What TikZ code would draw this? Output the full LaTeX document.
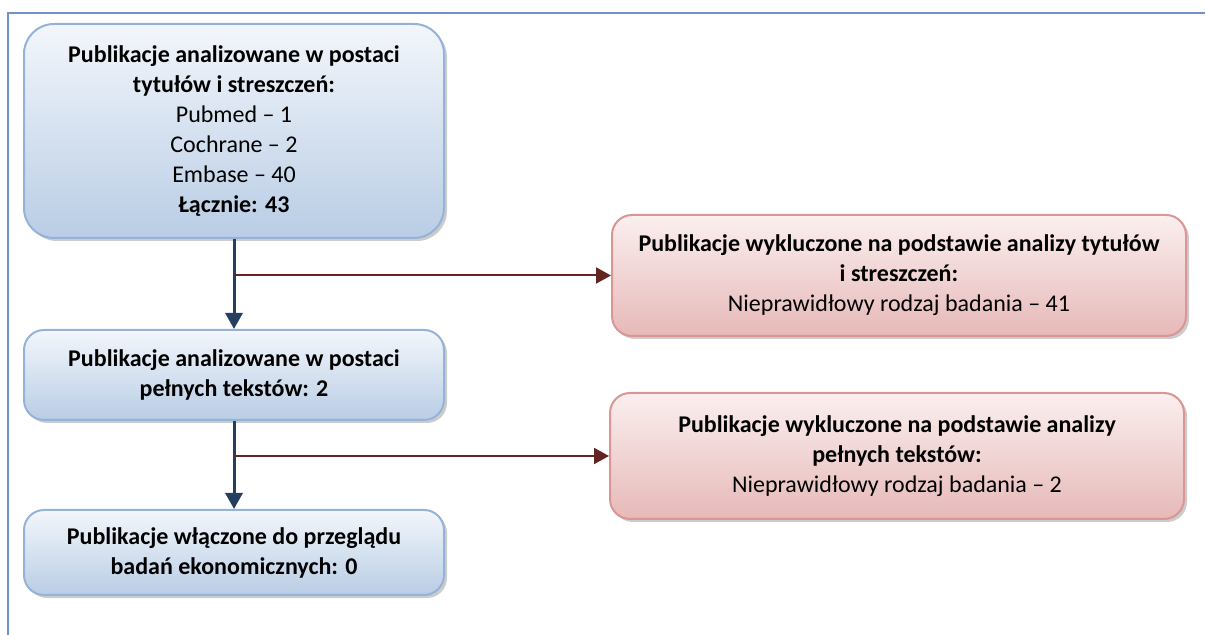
\documentclass[tikz,border=0pt]{standalone}
\usepackage{fontspec}
\setmainfont{Carlito}
\usetikzlibrary{arrows.meta,shadows,positioning}

\definecolor{blueedge}{HTML}{95B3D7}
\definecolor{bluetop}{HTML}{F3F6FB}
\definecolor{bluebot}{HTML}{B9CDE5}
\definecolor{rededge}{HTML}{D99694}
\definecolor{redtop}{HTML}{FBEFEF}
\definecolor{redbot}{HTML}{E6B9B8}
\definecolor{navyline}{HTML}{243F60}
\definecolor{maroonline}{HTML}{632523}
\definecolor{framecol}{HTML}{6F93C8}

\tikzset{
  stagebox/.style={draw=blueedge,line width=1pt,rounded corners=10pt,
    top color=bluetop,bottom color=bluebot,align=center,
    minimum width=210pt,font=\fontsize{12}{15}\selectfont,
    drop shadow={shadow xshift=1.5pt,shadow yshift=-1.5pt,fill=black!40}},
  dropbox/.style={draw=rededge,line width=1pt,rounded corners=10pt,
    top color=redtop,bottom color=redbot,align=center,
    minimum width=287pt,font=\fontsize{12}{15}\selectfont,
    drop shadow={shadow xshift=1.5pt,shadow yshift=-1.5pt,fill=black!40}},
  flowarrow/.style={draw=navyline,line width=1.5pt,
    -{Triangle[length=8pt,width=8.5pt]}},
  sidearrow/.style={draw=maroonline,line width=1pt,
    -{Triangle[length=7.5pt,width=8pt]}}
}

\begin{document}
\begin{tikzpicture}[x=0.5pt,y=-0.5pt]
\useasboundingbox (0,0) rectangle (1206,635);

% frame
\draw[framecol,line width=0.6pt] (8,635) -- (8,13) -- (1205,13);

% boxes
\node[stagebox,minimum height=107pt,rounded corners=15pt] (titles) at (234,131)
  {\textbf{Publikacje analizowane w postaci}\\
   \textbf{tytułów i streszczeń:}\\
   Pubmed – 1\\ Cochrane – 2\\ Embase – 40\\
   \textbf{Łącznie: 43}};
\node[dropbox,minimum height=60.5pt] (dropA) at (899,275.5)
  {\textbf{Publikacje wykluczone na podstawie analizy tytułów}\\
   \textbf{i streszczeń:}\\
   Nieprawidłowy rodzaj badania – 41};
\node[stagebox,minimum height=45pt] (fulltext) at (234,375)
  {\textbf{Publikacje analizowane w postaci}\\
   \textbf{pełnych tekstów: 2}};
\node[dropbox,minimum height=63pt] (dropB) at (897,456)
  {\textbf{Publikacje wykluczone na podstawie analizy}\\
   \textbf{pełnych tekstów:}\\
   Nieprawidłowy rodzaj badania – 2};
\node[stagebox,minimum height=42.5pt] (included) at (234,552.5)
  {\textbf{Publikacje włączone do przeglądu}\\
   \textbf{badań ekonomicznych: 0}};

% connectors
\draw[flowarrow] (titles.south) -- (fulltext.north);
\draw[flowarrow] (fulltext.south) -- (included.north);
\draw[sidearrow] (titles.south |- dropA.west) -- (dropA.west);
\draw[sidearrow] (fulltext.south |- dropB.west) -- (dropB.west);
\end{tikzpicture}
\end{document}
